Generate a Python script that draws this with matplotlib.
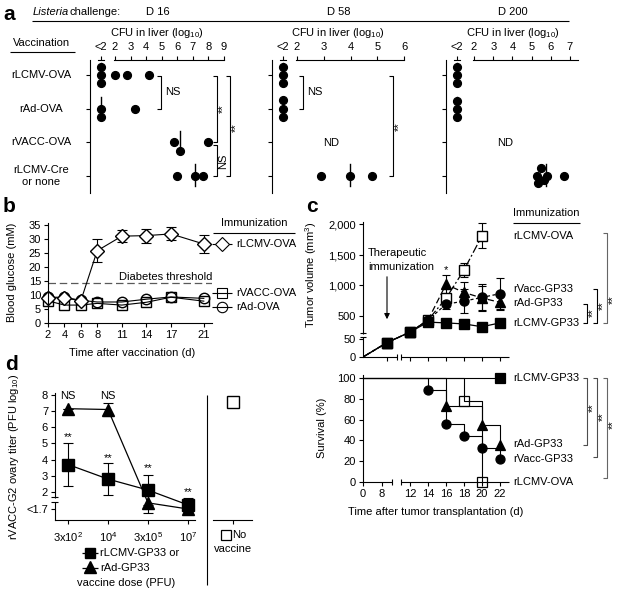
import numpy as np
import matplotlib
matplotlib.use('Agg')
import matplotlib.pyplot as plt

plt.rcParams['font.family'] = ['Liberation Sans', 'DejaVu Sans']
plt.rcParams['font.size'] = 8
plt.rcParams['mathtext.fontset'] = 'custom'
plt.rcParams['mathtext.rm'] = 'Liberation Sans'
plt.rcParams['mathtext.it'] = 'Liberation Sans:italic'
plt.rcParams['mathtext.bf'] = 'Liberation Sans:bold'
plt.rcParams['axes.linewidth'] = 0.8
plt.rcParams['xtick.major.width'] = 0.8
plt.rcParams['ytick.major.width'] = 0.8
plt.rcParams['xtick.major.size'] = 3
plt.rcParams['ytick.major.size'] = 3
plt.rcParams['xtick.labelsize'] = 8
plt.rcParams['ytick.labelsize'] = 8

# ------------------------------------------------------------------ DATA
# Panel a : CFU in liver (log10); 0 means "<2" (below detection)
a_rows = ['rLCMV-OVA', 'rAd-OVA', 'rVACC-OVA', 'rLCMV-Cre\nor none']
a_days = ['D 16', 'D 58', 'D 200']
a_d16 = [[0, 0, 0, 2.0, 2.8, 4.2], [0, 0, 3.3], [5.8, 6.2, 8.0], [6.0, 7.15, 7.65]]
a_d58 = [[0, 0, 0], [0, 0, 0], None, [2.9, 3.97, 4.8]]
a_d200 = [[0, 0, 0], [0, 0, 0], None, [5.49, 5.28, 5.8, 5.65, 5.33, 6.69]]
a_med16 = [0, 0, 6.2, 7.15]
a_med58 = [0, 0, None, 3.97]
a_med200 = [0, 0, None, 5.75]

# Panel b : blood glucose (mM)
b_days = [2, 4, 6, 8, 11, 14, 17, 21]
b_lcmv_ova = [8.9, 9.0, 7.9, 25.8, 31.0, 31.2, 31.8, 28.2]
b_lcmv_ova_err = [0.6, 0.6, 0.6, 4.2, 2.2, 2.5, 2.3, 3.1]
b_vacc_ova = [7.9, 6.4, 6.4, 7.0, 6.4, 7.4, 9.2, 7.8]
b_ad_ova = [9.2, 9.2, 8.1, 7.5, 7.5, 8.5, 9.3, 8.8]
b_threshold = 14.3
b_ticks = [2, 4, 6, 8, 11, 14, 17, 21]

# Panel c (top) : tumor volume (mm3)
c_days = [0, 8, 12, 14, 16, 18, 20, 22]
c_lcmv_ova = [0, 40, 185, 420, 785, 1250, 1810]
c_lcmv_ova_err = [0, 12, 20, 60, 70, 120, 200]
c_vacc_gp33 = [0, 40, 185, 420, 690, 740, 800, 860]
c_vacc_gp33_err = [0, 12, 20, 60, 70, 190, 220, 250]
c_ad_gp33 = [0, 40, 185, 420, 1010, 880, 790, 720]
c_ad_gp33_err = [0, 12, 20, 60, 150, 170, 200, 130]
c_lcmv_gp33 = [0, 40, 185, 380, 365, 345, 290, 365]
c_lcmv_gp33_err = [0, 12, 20, 30, 20, 20, 20, 20]
c_yticks = [0, 50, 500, 1000, 1500, 2000]
c_yticklabels = ['0', '50', '500', '1,000', '1,500', '2,000']

# Panel c (bottom) : survival (%)
s_lcmv_gp33_t, s_lcmv_gp33_p = [0, 22], [100, 100]
s_ad_gp33_t, s_ad_gp33_p = [0, 16, 20, 22], [100, 73, 55, 36]
s_vacc_gp33_t, s_vacc_gp33_p = [0, 14, 16, 18, 20, 22], [100, 89, 56, 44, 33, 22]
s_lcmv_ova_t, s_lcmv_ova_p = [0, 18, 20], [100, 78, 0]
s_xticks = [0, 8, 12, 14, 16, 18, 20, 22]

# Panel d : rVACC-G2 ovary titer (PFU log10); 0.95 is the "<1.7" level
d_doses = ['3x10$^{2}$', '10$^{4}$', '3x10$^{5}$', '10$^{7}$']
d_lcmv_gp33 = [3.7, 2.8, 2.12, 1.2]
d_lcmv_gp33_err = [1.35, 0.97, 0.93, 0.42]
d_ad_gp33 = [7.15, 7.1, 1.33, 0.95]
d_ad_gp33_err = [0.0, 0.38, 0.62, 0.0]
d_novacc = [7.55]
d_novacc_err = [0.15]
d_labels_ns = ['NS', 'NS', None, None]
d_labels_star = ['**', '**', '**', '**']

# ------------------------------------------------------------------ FIGURE
W, H = 624, 596
fig = plt.figure(figsize=(W / 100, H / 100), dpi=100)


def add_ax(l, t, r, b):
    return fig.add_axes([l / W, 1 - b / H, (r - l) / W, (b - t) / H])


def pw(xp, fp):
    xp = np.asarray(xp, float)
    fp = np.asarray(fp, float)
    s0 = (fp[1] - fp[0]) / (xp[1] - xp[0])
    s1 = (fp[-1] - fp[-2]) / (xp[-1] - xp[-2])

    def f(v):
        v = np.asarray(v, float)
        out = np.interp(v, xp, fp)
        out = np.where(v < xp[0], fp[0] + (v - xp[0]) * s0, out)
        out = np.where(v > xp[-1], fp[-1] + (v - xp[-1]) * s1, out)
        return out
    return f


def unclip(container):
    for a in container.get_children():
        a.set_clip_on(False)


K = 'black'

# ---------------- panel a
a_top, a_bot = 60, 193
a_geoms = [(90, 224, (0.394, 9.0), 1.10, list(range(2, 10))),
           (272, 404, (1.065, 6.0), 1.48, list(range(2, 7))),
           (446, 578, (0.54, 7.42), 1.11, list(range(2, 8)))]
a_jit = [[[-.24, 0, .24, 0, 0, 0], [0, .25, 0], [0, .25, 0], [0, 0, 0]],
         [[-.24, 0, .24], [-.26, 0, .24], None, [0, 0, 0]],
         [[-.24, 0, .24], [-.24, 0, .24], None, [-.24, 0, 0, .12, .21, 0]]]
for k, ((l, r, xl, lod, tks), data, meds) in enumerate(
        zip(a_geoms, [a_d16, a_d58, a_d200], [a_med16, a_med58, a_med200])):
    ax = add_ax(l, a_top, r, a_bot)
    ax.set_xlim(*xl)
    ax.set_ylim(3.5, -0.445)
    for s in ['top', 'right', 'bottom']:
        ax.spines[s].set_visible(False)
    ax.patch.set_alpha(0)
    ax.xaxis.tick_top()
    ax.set_xticks([lod] + tks)
    ax.set_xticklabels(['<2'] + [str(t) for t in tks])
    ax.tick_params(axis='x', length=3, pad=3)
    ax.set_yticks(range(4))
    ax.set_yticklabels([])
    upx = (r - l) / (xl[1] - xl[0])
    tr = ax.get_xaxis_transform()
    ax.plot([lod - 3 / upx, lod + 3 / upx], [1, 1], transform=tr, color=K, lw=0.8, clip_on=False)
    ax.plot([tks[0] - 1 / upx, xl[1]], [1, 1], transform=tr, color=K, lw=0.8, clip_on=False)
    for i, vals in enumerate(data):
        if vals is None:
            continue
        xs = [lod if v == 0 else v for v in vals]
        ys = [i + j for j in a_jit[k][i]]
        m = meds[i]
        mx = lod if m == 0 else m
        ax.plot([mx, mx], [i - 0.35, i + 0.3], color=K, lw=1.0)
        ax.plot(xs, ys, 'o', ms=5.6, color=K, clip_on=False)

# ---------------- panel b
axb = add_ax(48, 223, 212, 323)
axb.set_xlim(2, 22)
axb.set_ylim(0, 35.7)
for s in ['top', 'right']:
    axb.spines[s].set_visible(False)
axb.set_xticks(b_ticks)
axb.set_yticks(range(0, 36, 5))
axb.tick_params(pad=2)
axb.axhline(b_threshold, ls=(0, (6, 3)), color='0.35', lw=0.9)
axb.plot(b_days, b_vacc_ova, marker='s', ms=7.5, mfc='none', mec=K, color=K, lw=0.8, clip_on=False)
axb.plot(b_days, b_ad_ova, marker='o', ms=7.5, mfc='none', mec=K, color=K, lw=0.8, clip_on=False)
eb = axb.errorbar(b_days, b_lcmv_ova, yerr=b_lcmv_ova_err, marker='D', ms=7.2, mfc='white', mec=K,
                  color=K, lw=0.8, elinewidth=0.8, capsize=3.5, capthick=0.8)
unclip(eb)

# ---------------- panel c top
fx1, ix1 = pw([0, 8, 12, 22], [0, 24, 47, 137]), pw([0, 24, 47, 137], [0, 8, 12, 22])
fy, iy = (pw([0, 50, 500, 1000, 1500, 2000], [0, 18, 41, 72, 102, 133]),
          pw([0, 18, 41, 72, 102, 133], [0, 50, 500, 1000, 1500, 2000]))
axc1 = add_ax(363, 222, 509, 357)
axc1.set_xscale('function', functions=(fx1, ix1))
axc1.set_yscale('function', functions=(fy, iy))
axc1.set_xlim(0, 23)
axc1.set_ylim(0, float(iy(135)))
for s in ['top', 'right', 'bottom']:
    axc1.spines[s].set_visible(False)
axc1.patch.set_alpha(0)
axc1.set_xticks([8, 12, 14, 16, 18, 20, 22])
axc1.set_xticklabels([])
axc1.xaxis.set_minor_locator(matplotlib.ticker.NullLocator())
axc1.yaxis.set_minor_locator(matplotlib.ticker.NullLocator())
axc1.set_yticks(c_yticks)
axc1.set_yticklabels(c_yticklabels)
axc1.tick_params(axis='y', pad=2)

c_series = [
    (c_lcmv_ova, c_lcmv_ova_err, 's', 'none', (0, (7, 2, 1.5, 2)), 7, 3),
    (c_vacc_gp33, c_vacc_gp33_err, 'o', K, (0, (2.5, 2)), 6.5, 3),
    (c_ad_gp33, c_ad_gp33_err, '^', K, (0, (5, 2.5)), 7, 3),
    (c_lcmv_gp33, c_lcmv_gp33_err, 's', K, '-', 6.5, 4),
]
for vals, err, mk, mfc, ls, ms, z in c_series:
    d = c_days[:len(vals)]
    axc1.plot(d, vals, ls=ls, color=K, lw=0.9, zorder=z)
    e = axc1.errorbar(d[1:], vals[1:], yerr=err[1:], fmt=mk, ms=ms, mfc=mfc if mfc != 'none' else 'white',
                      mec=K, ecolor=K, elinewidth=0.8, capsize=3, capthick=0.8, zorder=z + 0.5)
    unclip(e)

# ---------------- panel c bottom
fx2, ix2 = pw([0, 8, 12, 22], [0, 19, 47, 137]), pw([0, 19, 47, 137], [0, 8, 12, 22])
axc2 = add_ax(363, 375, 509, 482)
axc2.set_xscale('function', functions=(fx2, ix2))
axc2.set_xlim(0, 23)
axc2.set_ylim(0, 103)
for s in ['top', 'right', 'bottom']:
    axc2.spines[s].set_visible(False)
axc2.patch.set_alpha(0)
axc2.xaxis.set_minor_locator(matplotlib.ticker.NullLocator())
axc2.set_xticks(s_xticks)
axc2.set_xticklabels([str(t) for t in s_xticks])
axc2.set_yticks(range(0, 101, 20))
axc2.tick_params(pad=2)
surv = [
    (s_lcmv_ova_t, s_lcmv_ova_p, 's', 'none', 7),
    (s_vacc_gp33_t, s_vacc_gp33_p, 'o', K, 6.5),
    (s_ad_gp33_t, s_ad_gp33_p, '^', K, 7),
    (s_lcmv_gp33_t, s_lcmv_gp33_p, 's', K, 6.5),
]
for t, p, mk, mfc, ms in surv:
    axc2.step(t, p, where='post', color=K, lw=0.8, clip_on=False)
    axc2.plot(t[1:], p[1:], ls='none', marker=mk, ms=ms, mfc=mfc, mec=K, mew=0.9, clip_on=False, zorder=4)

# ---------------- panel d
axd = add_ax(55, 393, 195, 520)
axd.set_xlim(-0.325, 3.175)
axd.set_ylim(0.27, 8.12)
for s in ['top', 'right']:
    axd.spines[s].set_visible(False)
axd.patch.set_alpha(0)
axd.set_xticks(range(4))
axd.set_xticklabels(d_doses)
axd.set_yticks([0.95, 2, 3, 4, 5, 6, 7, 8])
axd.set_yticklabels(['<1.7', '2', '3', '4', '5', '6', '7', '8'])
axd.tick_params(axis='y', pad=2)
axd.tick_params(axis='x', pad=4)
xd = np.arange(len(d_doses))
e1 = axd.errorbar(xd, d_lcmv_gp33, yerr=d_lcmv_gp33_err, fmt='-s', ms=8, color=K, lw=0.9,
                  elinewidth=0.8, capsize=3.5, capthick=0.8)
e2 = axd.errorbar(xd, d_ad_gp33, yerr=d_ad_gp33_err, fmt='-^', ms=8.5, color=K, lw=0.9,
                  elinewidth=0.8, capsize=3.5, capthick=0.8)
unclip(e1)
unclip(e2)
for i in range(len(d_doses)):
    if d_labels_ns[i]:
        axd.text(xd[i], 7.95, d_labels_ns[i], ha='center', va='center')
star_y = [5.4, 4.1, 3.48, 2.0]
for i in range(len(d_doses)):
    axd.text(xd[i], star_y[i], d_labels_star[i], ha='center', va='center')

axd2 = add_ax(213, 393, 252, 520)
axd2.set_xlim(-1, 1)
axd2.set_ylim(0.27, 8.12)
for s in ['top', 'right', 'left']:
    axd2.spines[s].set_visible(False)
axd2.patch.set_alpha(0)
axd2.set_xticks([0])
axd2.set_xticklabels([])
axd2.set_yticks([])
axd2.errorbar([0], d_novacc, yerr=d_novacc_err, fmt='s', ms=8, mfc='white', mec=K, ecolor=K,
              elinewidth=0.8, capsize=0)

# ------------------------------------------------------------------ OVERLAY (annotations)
ov = fig.add_axes([0, 0, 1, 1])
ov.set_xlim(0, W)
ov.set_ylim(H, 0)
ov.axis('off')
ov.set_zorder(10)


def txt(x, y, s, **kw):
    kw.setdefault('ha', 'left')
    kw.setdefault('va', 'center')
    ov.text(x, y, s, **kw)


def seg(xs, ys, color=K, lw=0.8, **kw):
    ov.plot(xs, ys, color=color, lw=lw, solid_capstyle='butt', **kw)


def bracket(x, y0, y1, color=K, tick=4):
    seg([x - tick, x, x, x - tick], [y0, y0, y1, y1], color=color)


# panel letters
txt(3, 14, 'a', fontsize=15, fontweight='bold')
txt(3, 206, 'b', fontsize=15, fontweight='bold')
txt(306, 206, 'c', fontsize=15, fontweight='bold')
txt(5, 365, 'd', fontsize=15, fontweight='bold')

# panel a annotations
txt(33, 12, 'Listeria', style='italic')
txt(70, 12, 'challenge:')
for x, s in zip([146, 327, 498], a_days):
    txt(x, 12, s)
seg([32, 569], [21, 21])
for x in [157, 338, 513]:
    txt(x, 33, 'CFU in liver (log$_{10}$)', ha='center')
txt(42, 43, 'Vaccination', ha='center')
seg([10, 75], [52, 52])
for y, s in zip([75, 109, 142, 176], a_rows):
    txt(41, y, s, ha='center', linespacing=1.25)
bracket(161, 76, 109)
txt(165, 92, 'NS')
bracket(217, 76, 142)
txt(223, 109, '**', rotation=90, ha='center')
bracket(230, 76, 176)
txt(236, 128, '**', rotation=90, ha='center')
bracket(217, 145, 176)
txt(223, 161, 'NS', rotation=90, ha='center')
bracket(303, 76, 109)
txt(307, 92, 'NS')
bracket(393, 76, 176)
txt(399, 127, '**', rotation=90, ha='center')
txt(331, 143, 'ND', ha='center')
txt(505, 143, 'ND', ha='center')

# panel b annotations
txt(12, 272, 'Blood glucose (mM)', rotation=90, ha='center')
txt(132, 353, 'Time after vaccination (d)', ha='center')
txt(166, 277, 'Diabetes threshold', ha='center')
txt(254, 223, 'Immunization', ha='center')
seg([213, 295], [233, 233])
for y, mk, lab in [(244, 'D', 'rLCMV-OVA'), (293, 's', 'rVACC-OVA'), (307, 'o', 'rAd-OVA')]:
    seg([212, 232], [y, y])
    ov.plot([222], [y], marker=mk, ms=7 if mk == 'D' else 7.5, mfc='white' if mk == 'D' else 'none',
            mec=K, mew=0.8, ls='none')
    txt(236, y, lab)

# panel c annotations
txt(311, 275, 'Tumor volume (mm$^{3}$)', rotation=90, ha='center')
txt(322, 428, 'Survival (%)', rotation=90, ha='center')
txt(436, 512, 'Time after tumor transplantation (d)', ha='center')
txt(368, 253, 'Therapeutic')
txt(368, 267, 'immunization')
ov.annotate('', xy=(387, 322), xytext=(387, 274),
            arrowprops=dict(arrowstyle='-|>', color=K, lw=0.8, mutation_scale=8))
txt(446, 270, '*', ha='center')
# axis breaks (c top)
seg([363, 397], [357, 357])
seg([401, 509], [357, 357])
seg([397, 397], [354, 360])
seg([401, 401], [354, 360])
seg([363, 363], [333.5, 336.5], color='white', lw=2.5)
seg([360, 366], [333, 333])
seg([360, 366], [337, 337])
# axis breaks (c bottom)
seg([363, 392], [482, 482])
seg([401, 509], [482, 482])
seg([392, 392], [479, 485])
seg([401, 401], [479, 485])
# c legends
txt(546, 213, 'Immunization', ha='center')
seg([513, 580], [223, 223])
for y, s in [(236, 'rLCMV-OVA'), (289, 'rVacc-GP33'), (303, 'rAd-GP33'), (323, 'rLCMV-GP33')]:
    txt(513, y, s)
bracket(587, 304, 323)
txt(593, 313, '**', rotation=90, ha='center')
bracket(597, 289, 323)
txt(603, 306, '**', rotation=90, ha='center')
bracket(607, 233, 323, color='0.4')
txt(613, 300, '**', rotation=90, ha='center')
for y, s in [(378, 'rLCMV-GP33'), (444, 'rAd-GP33'), (459, 'rVacc-GP33'), (482, 'rLCMV-OVA')]:
    txt(513, y, s)
bracket(587, 378, 445, color='0.3')
txt(593, 408, '**', rotation=90, ha='center')
bracket(597, 378, 457, color='0.3')
txt(603, 417, '**', rotation=90, ha='center')
bracket(607, 378, 478, color='0.4')
txt(613, 425, '**', rotation=90, ha='center')

# panel d annotations
txt(14, 457, 'rVACC-G2 ovary titer (PFU log$_{10}$)', rotation=90, ha='center')
seg([55, 55], [497.5, 501.5], color='white', lw=2.5)
seg([51, 58], [497, 497])
seg([51, 58], [502, 502])
seg([207, 207], [395, 585])
seg([82, 98], [553, 553], lw=0.9)
ov.plot([90], [553], marker='s', ms=7.5, color=K, ls='none')
seg([82, 98], [568, 568], lw=0.9)
ov.plot([90], [567], marker='^', ms=8, color=K, ls='none')
txt(100, 553, 'rLCMV-GP33 or')
txt(100, 568, 'rAd-GP33')
txt(77, 583, 'vaccine dose (PFU)')
ov.plot([226], [535], marker='s', ms=7, mfc='none', mec=K, mew=0.9, ls='none')
txt(232, 535, 'No')
txt(233, 549, 'vaccine', ha='center')

fig.savefig('out.png', dpi=100)
